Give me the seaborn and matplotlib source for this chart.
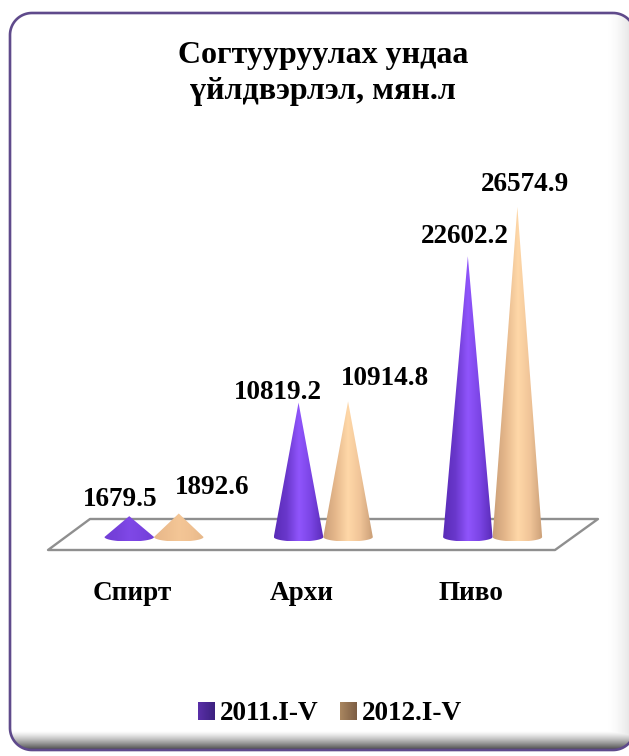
import numpy as np
import pandas as pd
import matplotlib
matplotlib.use("Agg")
import matplotlib.pyplot as plt
import matplotlib.transforms as mtrans
from matplotlib.colors import LinearSegmentedColormap, to_rgb
from matplotlib.patches import Polygon, Patch
import seaborn as sns

categories = ["Спирт", "Архи", "Пиво"]
series_names = ["2011.I-V", "2012.I-V"]
values_2011 = [1679.5, 10819.2, 22602.2]
values_2012 = [1892.6, 10914.8, 26574.9]
title = "Согтууруулах ундаа\nүйлдвэрлэл, мян.л"

W, H = 629, 756
sns.set_theme(style="white")
plt.rcParams["font.family"] = ["Liberation Serif", "DejaVu Serif"]
plt.rcParams["font.weight"] = "bold"

fig = plt.figure(figsize=(W / 100, H / 100), dpi=100, facecolor="white")

# Panel background (pixel coordinates, y downwards)
bg = fig.add_axes([0, 0, 1, 1], zorder=0)
bg.axis("off")
xx, yy = np.meshgrid(np.arange(W) + .5, np.arange(H) + .5)
shade = np.maximum(np.clip((yy - 731) / 18, 0, 1) ** 1.3 * 0.68,
                   np.clip((xx - 608) / 24, 0, 1) ** 1.5 * 0.11)
bg_img = np.dstack([1 - shade] * 3)
im = bg.imshow(bg_img, extent=(0, W, H, 0), aspect="auto", zorder=1, interpolation="bilinear")


def rounded_rect(x0, y0, x1, y1, r, n=24):
    pts = []
    corners = [(x1 - r, y0 + r, -90), (x1 - r, y1 - r, 0), (x0 + r, y1 - r, 90), (x0 + r, y0 + r, 180)]
    for cx, cy, start in corners:
        for a in np.radians(np.linspace(start, start + 90, n)):
            pts.append((cx + r * np.cos(a), cy + r * np.sin(a)))
    return pts


frame = Polygon(rounded_rect(10, 13, 635, 750, 22), closed=True,
                facecolor="none", edgecolor="#5f4a8b", linewidth=1.9, zorder=3)
bg.add_patch(frame)
im.set_clip_path(frame)
bg.set_xlim(0, W)
bg.set_ylim(H, 0)

# Floor
bg.add_patch(Polygon([(48, 550), (90, 519), (598, 519), (555, 550)], closed=True,
                     facecolor="white", edgecolor="#8f8f8f", linewidth=1.7,
                     joinstyle="round", zorder=4))

# Chart axes: value 0 at y=537 px, top at y=13 px
PX_PER_UNIT = 0.01242
GROUP_PX = 169.3
CENTER0_PX = 154.0
AX_TOP, AX_BOTTOM, BASE_PX = 13, 560, 537
ax = fig.add_axes([0, 1 - AX_BOTTOM / H, 1, (AX_BOTTOM - AX_TOP) / H], zorder=2)
ax.patch.set_alpha(0)

df = pd.DataFrame({
    "category": categories * 2,
    "series": [series_names[0]] * 3 + [series_names[1]] * 3,
    "value": values_2011 + values_2012,
})
cone_colors = {series_names[0]: "#7a44e0", series_names[1]: "#f0c090"}
sns.barplot(data=df, x="category", y="value", hue="series", palette=cone_colors,
            width=0.585, gap=0, dodge=True, legend=False, ax=ax, errorbar=None)
ax.set_xlabel("")
ax.set_ylabel("")
ax.set_yticks([])
sns.despine(ax=ax, left=True, bottom=True, top=True, right=True)
ax.tick_params(axis="x", length=0, pad=15)
label_shift = mtrans.ScaledTranslation(-22 / 100, 0, fig.dpi_scale_trans)
for t in ax.get_xticklabels():
    t.set_fontsize(19.5)
    t.set_fontweight("bold")
    t.set_color("black")
    t.set_transform(t.get_transform() + label_shift)

# Cone rendering from the seaborn bars
gradients = [
    ["#5a2cb8", "#6a38cc", "#9055fc", "#7a44e4", "#5a2cb8"],
    ["#cba078", "#e6b88c", "#ffd8a8", "#f0c498", "#cba078"],
]
ELLIPSE = 4.5 / PX_PER_UNIT
theta = np.linspace(np.pi, 2 * np.pi, 30)
for s, container in enumerate(ax.containers):
    for bar in container:
        x0, w, h = bar.get_x(), bar.get_width(), bar.get_height()
        bar.set_visible(False)
        # short cones read as almost flat in the reference
        mute = 0.75 if h < 5000 else 0.0
        base = np.array(to_rgb(cone_colors[series_names[s]]))
        stops = [(1 - mute) * np.array(to_rgb(c)) + mute * base for c in gradients[s]]
        cmap = LinearSegmentedColormap.from_list(f"c{s}", stops)
        xc = x0 + w / 2
        verts = [(xc, h), (x0, 0)]
        verts += [(xc + w / 2 * np.cos(t), ELLIPSE * np.sin(t)) for t in theta]
        verts += [(xc, h)]
        poly = Polygon(verts, closed=True, facecolor="none", edgecolor="none",
                       transform=ax.transData)
        ax.add_patch(poly)
        c = ax.imshow(np.linspace(0, 1, 64)[None, :], cmap=cmap, aspect="auto",
                      extent=(x0, x0 + w, -ELLIPSE, h), zorder=3 + s * 0.1,
                      interpolation="bilinear")
        c.set_clip_path(poly)
ax.set_xlim(-CENTER0_PX / GROUP_PX, (W - CENTER0_PX) / GROUP_PX)
ax.set_ylim(-(AX_BOTTOM - BASE_PX) / PX_PER_UNIT, (BASE_PX - AX_TOP) / PX_PER_UNIT)

# Value labels: offsets in pixels from the cone tip (centre of text)
offsets = [[(-9, 17), (33, 26)], [(-21, 10), (37, 23)], [(-3, 20), (8, 22)]]
for s, container in enumerate(ax.containers):
    for i, bar in enumerate(container):
        dx, dy = offsets[i][s]
        ax.annotate(f"{bar.get_height():.1f}",
                    (bar.get_x() + bar.get_width() / 2, bar.get_height()),
                    xytext=(dx * 0.72, dy * 0.72), textcoords="offset points",
                    ha="center", va="center", fontsize=19.5, fontweight="bold",
                    color="black", zorder=6)

fig.text(323 / W, 1 - 73.5 / H, title, ha="center", va="center", fontsize=23,
         fontweight="bold", color="black", linespacing=1.28, zorder=6)

handles = [Patch(facecolor="#4a2596", edgecolor="none"),
           Patch(facecolor="#94704f", edgecolor="none")]
leg = ax.legend(handles, series_names, loc="center", bbox_to_anchor=(330 / W, 1 - 714 / H),
                bbox_transform=fig.transFigure, frameon=False, ncol=2, labelcolor="black",
                handlelength=0.6, handleheight=0.6, handletextpad=0.22, columnspacing=0.78,
                prop={"family": "Liberation Serif", "weight": "bold", "size": 19.6})

# Gradient fill for the legend swatches
fig.canvas.draw()
swatch_cols = [["#5a30a8", "#3c2080"], ["#a98660", "#7d5e44"]]
for p, cols in zip(leg.get_patches(), swatch_cols):
    bb = p.get_window_extent().transformed(fig.transFigure.inverted())
    sw = fig.add_axes(bb.bounds, zorder=5)
    sw.axis("off")
    sw.imshow(np.linspace(0, 1, 32)[None, :], aspect="auto", interpolation="bilinear",
              cmap=LinearSegmentedColormap.from_list("sw", cols))

fig.savefig("out.png", dpi=100, facecolor="white")
